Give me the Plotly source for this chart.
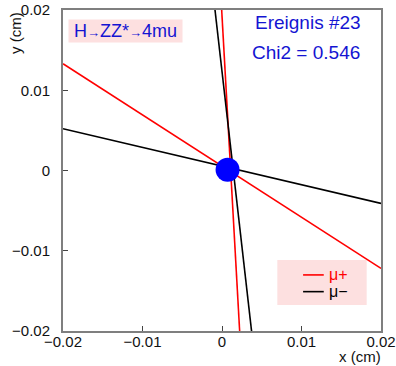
import plotly.graph_objects as go

# Track endpoints (cm)
red_shallow_x = [-0.02, 0.02]
red_shallow_y = [0.0133, -0.0122]
red_steep_x = [-0.00004, 0.00222]
red_steep_y = [0.02, -0.02]
black_shallow_x = [-0.02, 0.02]
black_shallow_y = [0.0052, -0.0041]
black_steep_x = [-0.00088, 0.00372]
black_steep_y = [0.02, -0.02]
vertex_x = [0.0007]
vertex_y = [0.0001]

tick_vals = [-0.02, -0.01, 0, 0.01, 0.02]
tick_text = ["\u22120.02", "\u22120.01", "0", "0.01", "0.02"]

RED = "#ff0000"
BLACK = "#000000"
BLUE = "#1414d2"
PINK = "#fde0e0"
FONT = "Liberation Sans, Arial, sans-serif"

fig = go.Figure()
for xs, ys, c in [(red_shallow_x, red_shallow_y, RED), (red_steep_x, red_steep_y, RED),
                  (black_shallow_x, black_shallow_y, BLACK), (black_steep_x, black_steep_y, BLACK)]:
    fig.add_trace(go.Scatter(x=xs, y=ys, mode="lines", line=dict(color=c, width=1.6),
                             showlegend=False, hoverinfo="skip"))
fig.add_trace(go.Scatter(x=vertex_x, y=vertex_y, mode="markers",
                         marker=dict(color="#0000ff", size=24, line=dict(width=0)),
                         showlegend=False))

axis_common = dict(
    range=[-0.02, 0.02], tickvals=tick_vals, ticktext=tick_text, automargin=False,
    ticklabeloverflow="allow",
    showgrid=False, zeroline=False, showline=True, linecolor="#7f7f7f", linewidth=2,
    mirror=True, ticks="inside", ticklen=5, tickcolor="#444444", tickwidth=1,
    tickfont=dict(family=FONT, size=15, color="#111111"),
)
fig.update_xaxes(**axis_common, ticklabelstandoff=-4)
fig.update_yaxes(**axis_common, ticklabelstandoff=8)


def ann(x, y, text, size, color, xanchor="center", yanchor="middle", **kw):
    d = dict(x=x, y=y, xref="paper", yref="paper", showarrow=False, text=text,
             xanchor=xanchor, yanchor=yanchor, font=dict(family=FONT, size=size, color=color))
    d.update(kw)
    return d


annotations = [
    ann(0.198, 0.9357,
        "H<span style='font-size:13px'>\u2192</span>ZZ*<span style='font-size:13px'>\u2192</span>4mu",
        18, BLUE, bgcolor=PINK, borderpad=2, width=109, height=18),
    ann(0.771, 0.962, "Ereignis #23", 19, BLUE),
    ann(0.765, 0.868, "Chi2 = 0.546", 19, BLUE),
    ann(0.829, 0.1747, "\u03bc+", 16, RED, xanchor="left"),
    ann(0.829, 0.1226, "\u03bc\u2212", 16, BLACK, xanchor="left"),
    ann(1.005, -0.078, "x (cm)", 15, "#111111", xanchor="right", yanchor="middle"),
    ann(-0.151, 1.0, "y (cm)", 15, "#111111", xanchor="center", yanchor="top", textangle=-90),
]

shapes = [
    dict(type="rect", xref="paper", yref="paper", x0=0.674, x1=0.955, y0=0.0811, y1=0.2215,
         fillcolor=PINK, line=dict(width=0), layer="below"),
    dict(type="line", xref="paper", yref="paper", x0=0.755, x1=0.820, y0=0.1747, y1=0.1747,
         line=dict(color=RED, width=1.6)),
    dict(type="line", xref="paper", yref="paper", x0=0.755, x1=0.820, y0=0.1226, y1=0.1226,
         line=dict(color=BLACK, width=1.6)),
]

fig.update_layout(
    width=396, height=366,
    margin=dict(l=63, r=15, t=10, b=35),
    plot_bgcolor="white", paper_bgcolor="white",
    annotations=annotations, shapes=shapes,
    showlegend=False,
)
fig.write_html("out.html", config={"displayModeBar": False},
               post_script="document.body.style.margin='0';")
